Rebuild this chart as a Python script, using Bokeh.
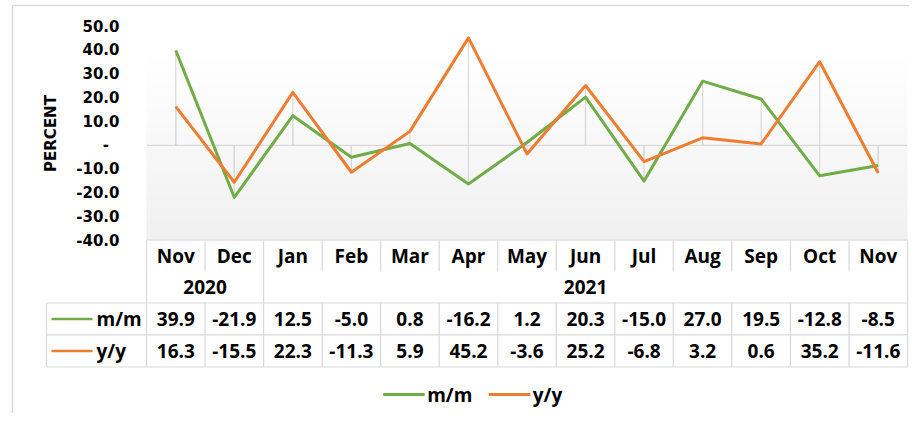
from bokeh.plotting import figure
from bokeh.models import Range1d, FixedTicker, NumeralTickFormatter
from bokeh.embed import file_html
from bokeh.resources import INLINE
from bokeh.core.properties import value

# ---------------- data ----------------
months = ["Nov", "Dec", "Jan", "Feb", "Mar", "Apr", "May", "Jun", "Jul", "Aug", "Sep", "Oct", "Nov"]
years = ["2020", "2020", "2021", "2021", "2021", "2021", "2021", "2021", "2021", "2021", "2021", "2021", "2021"]
mm = [39.9, -21.9, 12.5, -5.0, 0.8, -16.2, 1.2, 20.3, -15.0, 27.0, 19.5, -12.8, -8.5]
yy = [16.3, -15.5, 22.3, -11.3, 5.9, 45.2, -3.6, 25.2, -6.8, 3.2, 0.6, 35.2, -11.6]
series_names = ["m/m", "y/y"]
series_colors = ["#70AD47", "#ED7D31"]
y_ticks = [-40, -30, -20, -10, 0, 10, 20, 30, 40, 50]
y_label = "PERCENT"

# ---------------- layout (figure pixels) ----------------
W, H = 909, 413
FL, FR = 146, 907            # plot frame left / right
FT, FB = 26, 240             # plot frame top / bottom
n = len(months)
idx = list(range(n))

GRID = "#D9D9D9"
TFONT = value("Open Sans")
TSIZE = "19px"

p = figure(width=W, height=H, output_backend="svg", toolbar_location=None,
           x_range=Range1d(-0.5, n - 0.5),
           y_range=Range1d(y_ticks[0], y_ticks[-1]),
           x_axis_type=None,
           min_border_left=FL, min_border_right=W - FR, min_border_top=FT, min_border_bottom=H - FB,
           background_fill_color="white", border_fill_color="white", outline_line_color=None)
p.grid.grid_line_color = None
p.extra_y_ranges = {"px": Range1d(-FB, -FT)}   # y = -pixel row
p.extra_x_ranges = {"px": Range1d(FL, FR)}     # x = pixel column

# y axis
ax = p.yaxis[0]
ax.ticker = FixedTicker(ticks=y_ticks)
ax.formatter = NumeralTickFormatter(format="0.0")
ax.major_label_overrides = {0: "-\u2007"}
ax.axis_line_color = None
ax.major_tick_line_color = None
ax.minor_tick_line_color = None
ax.major_label_standoff = 21
ax.major_label_text_font = "DejaVu Sans"
ax.major_label_text_font_style = "bold"
ax.major_label_text_font_size = "15px"
ax.major_label_text_color = "black"
ax.axis_label = y_label
ax.axis_label_text_font = "DejaVu Sans"
ax.axis_label_text_font_style = "bold"
ax.axis_label_text_font_size = "15px"
ax.axis_label_text_color = "black"
ax.axis_label_standoff = 13

# gradient plot-area background
g_top, g_bot = 53.0, 239.5
nb = 40
edges = [g_top + (g_bot - g_top) * j / nb for j in range(nb + 1)]
cols = []
for j in range(nb):
    c = int(round(255 - 15 * (j + 0.5) / nb))
    cols.append("#%02x%02x%02x" % (c, c, c))
p.quad(left=-0.5, right=n - 0.5, top=[-e for e in edges[:-1]], bottom=[-e for e in edges[1:]],
       y_range_name="px", fill_color=cols, line_color=cols, line_width=1)

# zero line and drop lines
p.segment(x0=[-0.5], y0=[0], x1=[n - 0.5], y1=[0], line_color=GRID, line_width=1.2)
p.segment(x0=idx + idx, y0=[0] * (2 * n), x1=idx + idx, y1=mm + yy, line_color=GRID, line_width=1.2)

# series lines
for vals, col in zip([mm, yy], series_colors):
    p.line(idx, vals, line_color=col, line_width=3, line_join="round", level="overlay")

# ---------------- data table ----------------
r_top, r_mon, r_year, r_s1, r_s2 = 239.5, 271.0, 302.5, 334.3, 366.5
left_col = 46.0
hx0 = [FL, left_col, left_col, left_col]
hx1 = [FR, FR, FR, FR]
hy = [r_top, r_year, r_s1, r_s2]
p.segment(x0=hx0, y0=[-v for v in hy], x1=hx1, y1=[-v for v in hy],
          x_range_name="px", y_range_name="px", line_color=GRID, line_width=1.2, level="overlay")

# vertical separators
vx0, vy0, vx1, vy1 = [], [], [], []
for kk in range(n + 1):
    xb = kk - 0.5
    full = kk == 0 or kk == n or years[kk - 1] != years[kk]
    if full:
        segs = [(r_top, r_s2)]
    else:
        segs = [(r_top, r_mon), (r_year, r_s2)]
    for a, b in segs:
        vx0.append(xb); vx1.append(xb); vy0.append(-a); vy1.append(-b)
p.segment(x0=vx0, y0=vy0, x1=vx1, y1=vy1, y_range_name="px",
          line_color=GRID, line_width=1.2, level="overlay")
p.segment(x0=[left_col], y0=[-r_year], x1=[left_col], y1=[-r_s2],
          x_range_name="px", y_range_name="px", line_color=GRID, line_width=1.2, level="overlay")

txt = dict(text_font=TFONT, text_font_style="bold", text_font_size=TSIZE,
           text_baseline="middle", text_color="black", level="overlay")

# month labels
p.text(x=idx, y=[-(r_top + r_mon) / 2] * n, text=months, y_range_name="px",
       text_align="center", **txt)
# year labels
uy = []
for yv in years:
    if yv not in uy:
        uy.append(yv)
ycent = [sum(i for i in idx if years[i] == yv) / years.count(yv) for yv in uy]
p.text(x=ycent, y=[-(r_mon + r_year) / 2] * len(uy), text=uy, y_range_name="px",
       text_align="center", **txt)
# value rows
for vals, (ra, rb) in zip([mm, yy], [(r_year, r_s1), (r_s1, r_s2)]):
    p.text(x=idx, y=[-(ra + rb) / 2] * n, text=["%.1f" % v for v in vals], y_range_name="px",
           text_align="center", **txt)
# row headers with legend keys
for name, col, (ra, rb) in zip(series_names, series_colors, [(r_year, r_s1), (r_s1, r_s2)]):
    yc = -(ra + rb) / 2
    p.segment(x0=[51], y0=[yc], x1=[92], y1=[yc], x_range_name="px", y_range_name="px",
              line_color=col, line_width=2.5, level="overlay")
    p.text(x=[96], y=[yc], text=[name], x_range_name="px", y_range_name="px",
           text_align="left", **txt)

# bottom legend
leg_y = -394.0
for name, col, x0 in zip(series_names, series_colors, [382.7, 488.3]):
    p.segment(x0=[x0], y0=[leg_y], x1=[x0 + 41.5], y1=[leg_y], x_range_name="px", y_range_name="px",
              line_color=col, line_width=3, level="overlay")
    p.text(x=[x0 + 44], y=[leg_y], text=[name], x_range_name="px", y_range_name="px",
           text_align="left", **txt)

# chart border (left and top edges)
p.segment(x0=[12, 12], y0=[-5, -5], x1=[12, W], y1=[-H, -5], x_range_name="px", y_range_name="px",
          line_color=GRID, line_width=1.5, level="overlay")

open("out.html", "w").write(file_html(p, INLINE))
